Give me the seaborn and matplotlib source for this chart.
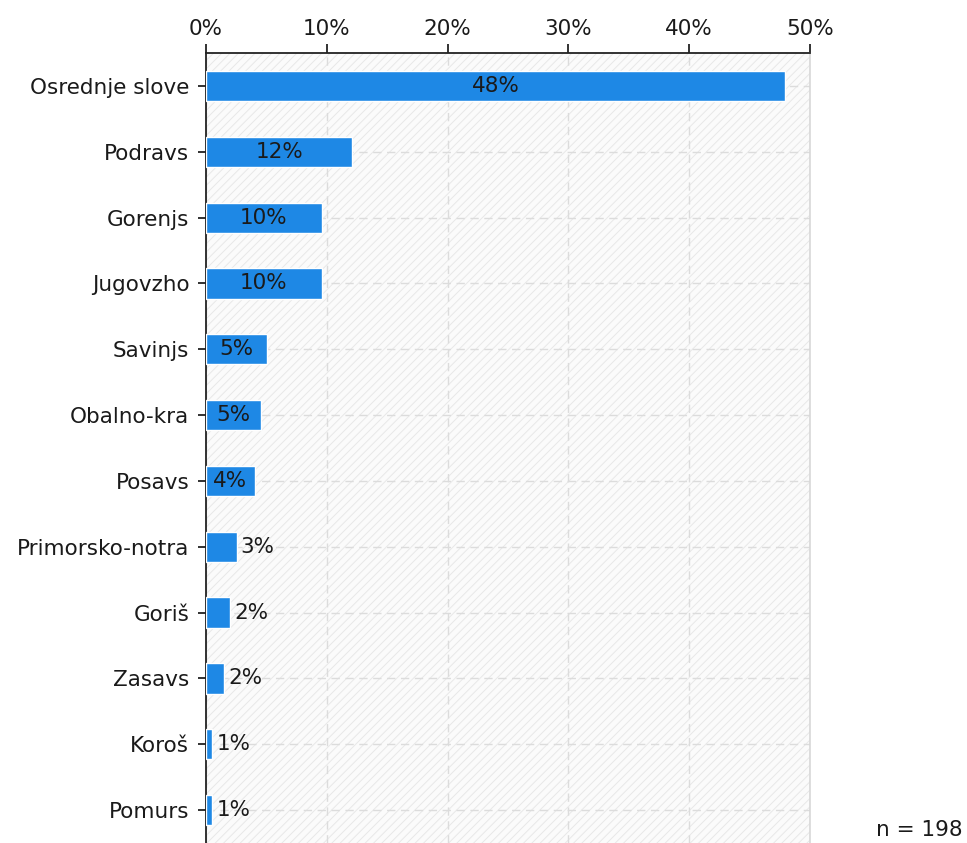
import matplotlib
matplotlib.use("Agg")
import matplotlib.pyplot as plt
from matplotlib.patches import Rectangle
from matplotlib.ticker import FuncFormatter
import seaborn as sns
import pandas as pd

# Regions and their share of respondents (%)
regions = ["Osrednje slove", "Podravs", "Gorenjs", "Jugovzho", "Savinjs",
           "Obalno-kra", "Posavs", "Primorsko-notra", "Goriš", "Zasavs",
           "Koroš", "Pomurs"]
shares = [47.98, 12.12, 9.60, 9.60, 5.05, 4.55, 4.04, 2.53, 2.02, 1.52, 0.51, 0.51]
n_total = 198
x_ticks = [0, 10, 20, 30, 40, 50]

df = pd.DataFrame({"region": regions, "share": shares})

sns.set_theme(style="white")
plt.rcParams["font.family"] = ["DejaVu Sans"]
plt.rcParams["hatch.linewidth"] = 0.7

FS = 15.5
TXT = "#1a1a1a"

fig = plt.figure(figsize=(9.67, 8.43), dpi=100)
ax = fig.add_axes([0.213, 0.0, 0.6245, 0.937])

# light striped plot background
ax.add_patch(Rectangle((0, 0), 1, 1, transform=ax.transAxes, facecolor="#fbfbfb",
                       edgecolor="#e8e8e8", hatch="////", lw=0, zorder=0))

sns.barplot(data=df, y="region", x="share", orient="h", color="#1e88e5",
            saturation=1, width=0.46, ax=ax, zorder=3)

ax.set_xlim(0, 50)
ax.set_ylim(len(regions) - 0.5, -0.5)
ax.set_xticks(x_ticks)
ax.xaxis.set_major_formatter(FuncFormatter(lambda v, p: f"{v:.0f}%"))
ax.xaxis.tick_top()
ax.set_xlabel("")
ax.set_ylabel("")

ax.grid(True, axis="both", color="#dcdcdc", linestyle=(0, (6, 4)), linewidth=1.0, zorder=1)
ax.set_axisbelow(True)

for side in ["top", "left"]:
    ax.spines[side].set_color("#222222")
    ax.spines[side].set_linewidth(1.3)
ax.spines["right"].set_color("#d8d8d8")
ax.spines["right"].set_linewidth(1.2)
ax.spines["bottom"].set_visible(False)

ax.tick_params(axis="x", top=True, bottom=False, length=6.5, width=1.3,
               color="#222222", labelsize=FS, pad=4, labelcolor=TXT)
ax.tick_params(axis="y", left=True, length=6, width=1.3, color="#222222",
               labelsize=FS, pad=6, labelcolor=TXT)

# value labels: inside the bar when it is wide enough, otherwise just after it
for i, v in enumerate(shares):
    label = f"{round(v):.0f}%"
    if v >= 4:
        ax.text(v / 2, i, label, ha="center", va="center", fontsize=FS,
                color=TXT, zorder=5)
    else:
        ax.text(v + 0.35, i, label, ha="left", va="center", fontsize=FS,
                color=TXT, zorder=5)

fig.text(0.995, 0.003, f"n = {n_total}", ha="right", va="bottom", fontsize=FS,
         color=TXT)

fig.savefig("out.png", dpi=100, facecolor="white")
